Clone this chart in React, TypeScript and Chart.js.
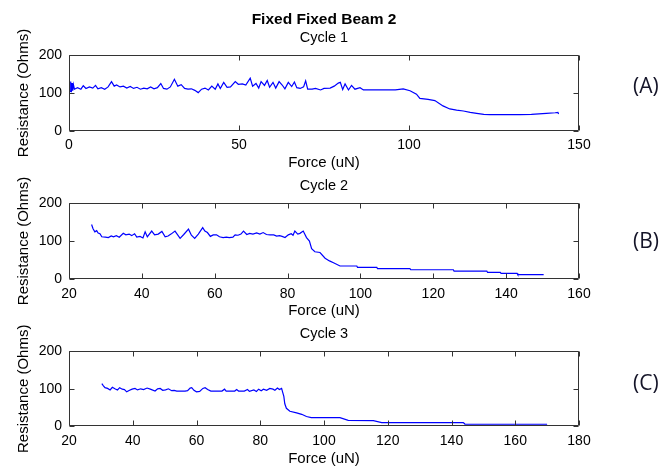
import React, { useEffect, useRef } from 'react';
import { Chart, registerables } from 'chart.js';

Chart.register(...registerables);

// ---------- data ----------
const cycle1Force = [
  0.3, 0.5, 0.7, 0.9, 1.1, 1.3, 1.6, 2.5, 3.5, 4.2,
  5, 6, 7, 7.8, 8.5, 9.5, 10.5, 11.5, 12.5, 13.3,
  14, 15, 16, 17, 18, 19, 20, 21, 22, 23,
  24, 25, 26, 27, 27.8, 28.8, 29.8, 31, 32, 33,
  34, 35, 36, 37, 38, 39, 40, 41, 42, 43,
  43.8, 44.5, 45.5, 46.5, 47.5, 48.9, 49.8, 51, 52, 53.3,
  54, 55, 55.8, 56.5, 57.5, 58.3, 59, 60, 60.8, 61.8,
  62.7, 63.5, 64.5, 65.5, 66.3, 67, 68, 69, 69.6, 70.2,
  71.5, 72.5, 74, 75, 76.8, 78, 79.2, 79.8, 80.5, 81.2,
  82.2, 83.1, 84.1, 85.6, 86.6, 88, 90, 92, 94, 96,
  98.3, 100.3, 102.2, 103.2, 105.6, 107.6, 110, 112, 114, 116,
  118, 119.9, 122, 123.8, 128, 132.6, 136, 140.4, 143, 143.8,
  144,
];
const cycle1Resistance = [
  104, 130, 102, 126, 106, 122, 110, 114, 110, 119,
  112, 116, 113, 120, 111, 114, 110, 116, 130, 118,
  121, 116, 118, 113, 117, 112, 115, 110, 113, 111,
  116, 111, 114, 125, 112, 110, 116, 136, 118, 122,
  112, 110, 111, 107, 101, 110, 113, 108, 118, 110,
  124, 112, 128, 115, 116, 130, 123, 124, 121, 139,
  118, 125, 113, 130, 120, 133, 115, 128, 113, 130,
  121, 111, 128, 117, 129, 114, 112, 116, 132, 110,
  110, 112, 108, 112, 113, 118, 126, 128, 109, 124,
  108, 120, 110, 114, 108, 108, 108, 108, 108, 108,
  111, 106, 97, 86, 83, 80, 66, 58, 55, 52.6,
  49, 46.5, 44, 43, 43, 43, 44, 46.5, 48, 49,
  45,
];

const cycle2Force = [
  26.2, 26.6, 27.1, 27.6, 28, 28.5, 29, 30, 30.8, 31.6,
  32.2, 33, 33.8, 34.9, 35.6, 36.5, 37.2, 38, 38.6, 39.5,
  40.3, 40.9, 41.5, 42.7, 43.5, 44.5, 45.5, 46.4, 47.2, 48,
  49.1, 50.5, 51.5, 52.8, 53.6, 54.5, 55.5, 56.7, 57.3, 58,
  58.8, 59.6, 60.5, 61.3, 62.3, 63.2, 64, 65, 65.6, 66.4,
  67.2, 67.9, 68.8, 69.6, 70.5, 71.5, 72.4, 73.3, 74.2, 75.2,
  76.2, 77, 77.8, 78.5, 79.3, 80.2, 81, 81.5, 82, 82.8,
  83.4, 84.3, 85.2, 86, 86.6, 87.5, 88.9, 90.3, 91.5, 92.6,
  94.4, 99, 99.2, 104.5, 104.7, 113.6, 113.8, 125.5, 125.7, 134.7,
  134.9, 138.4, 138.6, 143, 143.2, 150.3,
];
const cycle2Resistance = [
  143, 132, 124, 127, 121, 119, 111, 110, 109, 113,
  111, 114, 110, 120, 116, 118, 114, 119, 110, 112,
  108, 124, 111, 126, 116, 118, 125, 111, 113, 118,
  126, 107, 117, 131, 115, 107, 118, 135, 126, 122,
  112, 116, 116, 111, 109, 110, 109, 110, 116, 115,
  118, 126, 117, 120, 118, 121, 118, 122, 117, 116,
  116, 113, 114, 112, 109, 116, 119, 115, 126, 118,
  120, 126, 109, 100, 80, 72, 70, 55, 48, 43,
  34.7, 34.7, 31.2, 31.2, 27.7, 27.7, 25, 25, 21.6, 21.6,
  18, 18, 15.5, 15.5, 12, 12,
];

const cycle3Force = [
  30.3, 30.8, 31.3, 32.1, 32.9, 33.6, 34.4, 35.2, 35.9, 36.7,
  37.4, 38.1, 39, 39.8, 40.7, 41.5, 42.5, 43.4, 44.5, 45.5,
  47, 47.8, 48.6, 49.4, 50.3, 51.2, 52.2, 53, 53.8, 55,
  56.4, 57.2, 58, 58.5, 59.2, 60, 61, 62, 62.7, 63.5,
  64.5, 66, 68, 68.8, 69.3, 70.3, 72, 72.6, 73.2, 75,
  76, 76.6, 78, 78.8, 79.5, 80.3, 81, 82, 83, 84,
  84.6, 85.4, 86, 86.7, 87, 87.4, 87.7, 88.2, 89.3, 91.4,
  93, 94.5, 96, 105, 107.6, 115.5, 118.1, 143.7, 144.2, 170,
];
const cycle3Resistance = [
  114, 108, 103, 101, 97, 104, 100, 97, 103, 99,
  98, 92, 96, 99, 101, 97, 100, 98, 102, 99,
  94, 100, 101, 96, 97, 100, 95, 96, 94, 94,
  94, 95, 102, 103, 96, 92, 93, 101, 103, 98,
  94, 94, 94, 99, 94, 94, 94, 98, 94, 94,
  98, 93, 97, 93, 99, 95, 99, 96, 101, 99,
  96, 102, 98, 101, 92, 80, 60, 48, 40, 36,
  32, 26, 23, 23, 16, 15, 10, 10, 6, 5.5,
];

const figureTitle = 'Fixed Fixed Beam 2';
const cycleTitles = ['Cycle 1', 'Cycle 2', 'Cycle 3'];
const panelLabels = ['(A)', '(B)', '(C)'];
const xAxisTitle = 'Force (uN)';
const yAxisTitle = 'Resistance (Ohms)';
const xRanges = [
  [0, 150, 50],
  [20, 160, 20],
  [20, 180, 20],
];
const yRange = [0, 200, 100];

// ---------- layout ----------
const FONT = "'Liberation Sans', Arial, Helvetica, sans-serif";
const W = 663;

type Panel = {
  top: number;
  height: number;
  force: number[];
  resistance: number[];
  range: number[];
  title?: string;
  subtitle: string;
  titlePad?: { top: number; bottom: number };
  subPad: { top: number; bottom: number };
  xAxisHeight: number;
  xTitlePadBottom: number;
};

const panels: Panel[] = [
  {
    top: 0, height: 172, force: cycle1Force, resistance: cycle1Resistance, range: xRanges[0],
    title: figureTitle, subtitle: cycleTitles[0],
    titlePad: { top: 10.2, bottom: 0 }, subPad: { top: 0, bottom: 8.8 },
    xAxisHeight: 41, xTitlePadBottom: 0,
  },
  {
    top: 172, height: 148, force: cycle2Force, resistance: cycle2Resistance, range: xRanges[1],
    subtitle: cycleTitles[1], subPad: { top: 5.3, bottom: 8.0 },
    xAxisHeight: 40.7, xTitlePadBottom: 0,
  },
  {
    top: 320, height: 150, force: cycle3Force, resistance: cycle3Resistance, range: xRanges[2],
    subtitle: cycleTitles[2], subPad: { top: 5.3, bottom: 8.6 },
    xAxisHeight: 43.7, xTitlePadBottom: 2,
  },
];

const labelTops = [71, 226, 368];

const framePlugin = {
  id: 'matlabFrame',
  afterDraw(chart: any) {
    const { ctx, chartArea: a, scales } = chart;
    const x0 = Math.round(a.left) + 0.5;
    const x1 = Math.round(a.right) - 0.5;
    const y0 = Math.round(a.top) + 0.5;
    const y1 = Math.round(a.bottom) - 0.5;
    const tl = 5;
    ctx.save();
    ctx.strokeStyle = '#333333';
    ctx.lineWidth = 1;
    ctx.beginPath();
    ctx.rect(x0, y0, x1 - x0, y1 - y0);
    for (const t of scales.x.ticks) {
      const px = Math.round(scales.x.getPixelForValue(t.value)) + 0.5;
      ctx.moveTo(px, y1);
      ctx.lineTo(px, y1 - tl);
      ctx.moveTo(px, y0);
      ctx.lineTo(px, y0 + tl);
    }
    for (const t of scales.y.ticks) {
      const py = Math.round(scales.y.getPixelForValue(t.value)) + 0.5;
      ctx.moveTo(x0, py);
      ctx.lineTo(x0 + tl, py);
      ctx.moveTo(x1, py);
      ctx.lineTo(x1 - tl, py);
    }
    ctx.stroke();
    ctx.restore();
  },
};

function PanelChart({ p }: { p: Panel }) {
  const ref = useRef<HTMLCanvasElement | null>(null);
  useEffect(() => {
    if (!ref.current) return;
    const points = p.force.map((f, i) => ({ x: f, y: p.resistance[i] }));
    const tickFont = { family: FONT, size: 14 };
    const labelFont = { family: FONT, size: 15 };
    const chart = new Chart(ref.current, {
      type: 'line',
      data: {
        datasets: [
          {
            data: points,
            borderColor: '#0000ff',
            borderWidth: 1.2,
            pointRadius: 0,
            tension: 0,
            fill: false,
            yAxisID: 'y',
          },
        ],
      },
      options: {
        responsive: false,
        animation: false,
        devicePixelRatio: 1,
        layout: { padding: { left: 0, right: 15, top: 0, bottom: 0 } },
        plugins: {
          legend: { display: false },
          tooltip: { enabled: false },
          title: {
            display: !!p.title,
            text: p.title || '',
            color: '#000',
            font: { family: FONT, size: 15.5, weight: 'bold' },
            padding: p.titlePad || 0,
          },
          subtitle: {
            display: true,
            text: p.subtitle,
            color: '#000',
            font: { family: FONT, size: 14.5, weight: 'normal' },
            padding: p.subPad,
          },
        },
        scales: {
          x: {
            type: 'linear',
            min: p.range[0],
            max: p.range[1],
            ticks: {
              stepSize: p.range[2],
              autoSkip: false,
              maxRotation: 0,
              color: '#000',
              font: tickFont,
              padding: 6,
            },
            grid: { display: false, drawTicks: false },
            border: { display: false },
            title: {
              display: true,
              text: xAxisTitle,
              color: '#000',
              font: labelFont,
              padding: { top: 0, bottom: p.xTitlePadBottom },
            },
            afterFit: (s: any) => {
              s.height = p.xAxisHeight;
            },
          },
          y: {
            type: 'linear',
            position: 'left',
            min: yRange[0],
            max: yRange[1],
            ticks: {
              stepSize: yRange[2],
              color: '#000',
              font: tickFont,
              padding: 7,
            },
            grid: { display: false, drawTicks: false },
            border: { display: false },
            title: {
              display: true,
              text: yAxisTitle,
              color: '#000',
              font: labelFont,
              padding: { top: 15, bottom: 0 },
            },
            afterFit: (s: any) => {
              s.width = 69;
            },
          },
          yRight: {
            type: 'linear',
            position: 'right',
            min: yRange[0],
            max: yRange[1],
            ticks: { display: false },
            grid: { display: false, drawTicks: false },
            border: { display: false },
            afterFit: (s: any) => {
              s.width = 69;
            },
          },
        },
      } as any,
      plugins: [framePlugin],
    });
    return () => chart.destroy();
  }, [p]);
  return (
    <canvas
      ref={ref}
      width={W}
      height={p.height}
      style={{ position: 'absolute', left: 0, top: p.top, width: W, height: p.height, display: 'block' }}
    />
  );
}

export default function App() {
  return (
    <div
      style={{
        position: 'absolute',
        left: 0,
        top: 0,
        width: W,
        height: 470,
        overflow: 'hidden',
        background: '#fff',
      }}
    >
      {panels.map((p, i) => (
        <PanelChart key={i} p={p} />
      ))}
      {panelLabels.map((t, i) => (
        <span
          key={t}
          style={{
            position: 'absolute',
            left: 633,
            top: labelTops[i],
            fontFamily: "'Open Sans', 'Noto Sans', sans-serif",
            fontSize: 21,
            lineHeight: '28px',
            color: '#141428',
            whiteSpace: 'nowrap',
          }}
        >
          {t}
        </span>
      ))}
    </div>
  );
}
